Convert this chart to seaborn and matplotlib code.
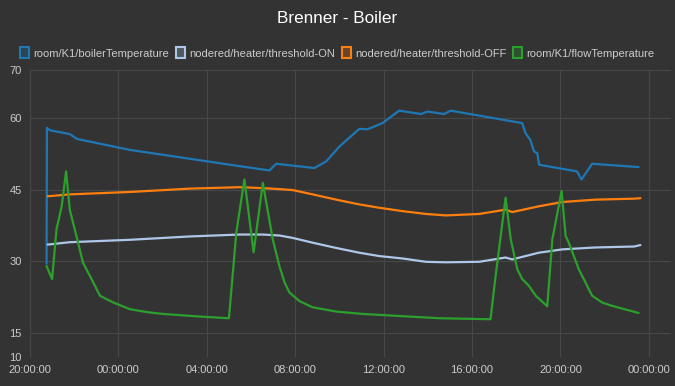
import pandas as pd
import matplotlib.pyplot as plt
import matplotlib.dates as mdates
from matplotlib.patches import Patch
import seaborn as sns

# series (day 1 = first evening, day 2 = next day)
boiler_time = ["1 20:45", "1 20:46", "1 20:54", "1 21:48", "1 22:07", "2 00:31", "2 05:29",
               "2 06:50", "2 07:08", "2 08:52", "2 09:24", "2 10:00", "2 10:54", "2 11:16",
               "2 11:57", "2 12:42", "2 13:41", "2 13:59", "2 14:44", "2 15:02", "2 18:16",
               "2 18:25", "2 18:38", "2 18:48", "2 18:57", "2 19:02", "2 20:45", "2 20:57",
               "2 21:26", "2 23:32"]
boiler_temp = [29.5, 57.9, 57.4, 56.6, 55.6, 53.3, 49.9,
               49.0, 50.4, 49.5, 50.9, 54.0, 57.7, 57.6,
               58.9, 61.5, 60.8, 61.3, 60.8, 61.5, 58.9,
               56.8, 55.4, 53.0, 52.6, 50.2, 48.8, 47.1,
               50.4, 49.7]

thr_time = ["1 20:48", "1 21:48", "2 00:31", "2 03:13", "2 05:29", "2 06:32", "2 07:17",
            "2 07:53", "2 08:47", "2 09:51", "2 10:54", "2 11:48", "2 12:51", "2 13:55",
            "2 14:49", "2 16:19", "2 17:31", "2 17:49", "2 19:01", "2 20:05", "2 21:35",
            "2 23:20", "2 23:37"]
thr_on = [33.5, 34.0, 34.5, 35.2, 35.6, 35.6, 35.4,
          34.9, 33.9, 32.8, 31.8, 31.1, 30.6, 29.9,
          29.8, 29.9, 30.8, 30.4, 31.8, 32.5, 32.9,
          33.1, 33.4]
thr_off = [43.6, 44.0, 44.5, 45.2, 45.5, 45.3, 45.1,
           44.9, 44.0, 42.9, 41.9, 41.2, 40.5, 39.9,
           39.6, 39.9, 40.8, 40.3, 41.5, 42.4, 42.9,
           43.1, 43.2]

flow_time = ["1 20:45", "1 21:00", "1 21:12", "1 21:26", "1 21:38", "1 21:48", "1 22:06",
             "1 22:24", "1 22:47", "1 23:10", "1 23:46", "2 00:31", "2 01:16", "2 02:01",
             "2 03:32", "2 05:00", "2 05:20", "2 05:42", "2 06:07", "2 06:32", "2 06:59",
             "2 07:17", "2 07:31", "2 07:44", "2 08:11", "2 08:47", "2 09:51", "2 11:03",
             "2 14:31", "2 16:50", "2 17:04", "2 17:31", "2 17:45", "2 18:03", "2 18:16",
             "2 18:34", "2 18:53", "2 19:24", "2 19:38", "2 20:03", "2 20:14", "2 20:22",
             "2 20:50", "2 21:26", "2 21:53", "2 22:20", "2 23:32"]
flow_temp = [29.0, 26.3, 36.7, 41.5, 48.8, 40.8, 35.3,
             29.7, 26.3, 22.8, 21.4, 20.0, 19.4, 19.0,
             18.5, 18.1, 36.0, 47.1, 31.9, 46.4, 34.6,
             29.0, 25.6, 23.5, 21.7, 20.4, 19.5, 19.0,
             18.1, 17.9, 27.0, 43.3, 34.6, 28.3, 26.3,
             24.9, 22.8, 20.6, 34.6, 44.7, 35.3, 34.0,
             28.3, 22.8, 21.4, 20.7, 19.2]

labels = ["room/K1/boilerTemperature", "nodered/heater/threshold-ON",
          "nodered/heater/threshold-OFF", "room/K1/flowTemperature"]
colors = ["#1f77b4", "#aec7e8", "#ff7f0e", "#2ca02c"]
y_ticks = [10, 15, 30, 45, 60, 70]


def to_dt(lst):
    return pd.to_datetime(["2021-03-0" + s for s in lst], format="%Y-%m-%d %H:%M")


bg = "#333333"
sns.set_theme(style="dark", rc={"axes.facecolor": bg, "figure.facecolor": bg,
                                "axes.edgecolor": bg, "grid.color": "#474747"})
plt.rcParams["font.family"] = ["Liberation Sans", "DejaVu Sans"]

fig, ax = plt.subplots(figsize=(6.75, 3.86), dpi=100)
fig.subplots_adjust(left=30 / 675, right=671 / 675, top=1 - 70 / 386, bottom=1 - 357 / 386)

series = [(boiler_time, boiler_temp), (thr_time, thr_on), (thr_time, thr_off), (flow_time, flow_temp)]
for (t, v), c in zip(series, colors):
    sns.lineplot(x=to_dt(t), y=v, ax=ax, color=c, linewidth=1.6)

start = pd.Timestamp("2021-03-01 20:00")
ax.set_xlim(start, start + pd.Timedelta(hours=29))
ax.set_ylim(10, 70)
ax.set_yticks(y_ticks)
ax.set_xticks(pd.date_range(start, periods=8, freq="4h"))
ax.xaxis.set_major_formatter(mdates.DateFormatter("%H:%M:%S"))
ax.set_xlabel("")
ax.set_ylabel("")
ax.grid(True, color="#474747", linewidth=0.8)
ax.tick_params(colors="#cccccc", labelsize=8, length=0, pad=6)
for s in ax.spines.values():
    s.set_visible(False)

handles = [Patch(facecolor=c + "40", edgecolor=c, linewidth=1.5) for c in colors]
fig.legend(handles, labels, loc="center", bbox_to_anchor=(0.5, 1 - 53 / 386), ncol=4,
           frameon=False, fontsize=8, labelcolor="#cccccc", handlelength=0.8, handleheight=1.1,
           handletextpad=0.4, columnspacing=0.6)
fig.suptitle("Brenner - Boiler", color="white", fontsize=12.3, y=1 - 11 / 386)

plt.savefig("out.png", dpi=100, facecolor=bg)
